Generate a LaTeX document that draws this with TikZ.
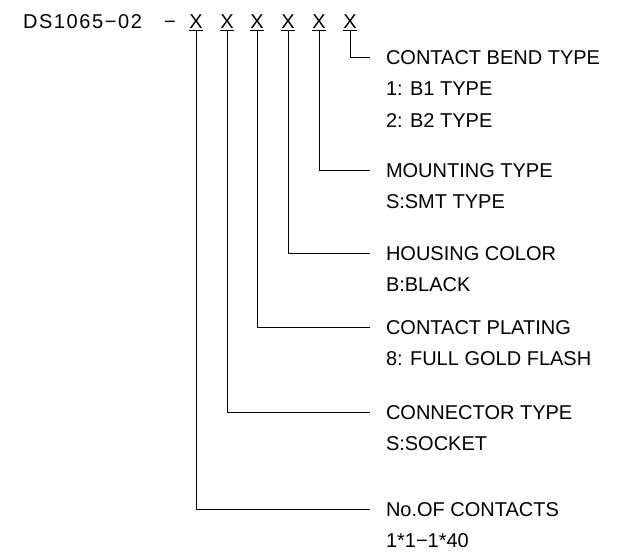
\documentclass[tikz,border=0pt]{standalone}
\usepackage{fontspec}
\setmainfont{Liberation Sans}
\newfontfamily\titlefont[LetterSpace=8]{Liberation Sans}
\usetikzlibrary{positioning}

\begin{document}
\begin{tikzpicture}[
  x=1pt, y=-1pt,
  node distance=17pt,
  txt/.style={inner sep=0pt, outer sep=0pt, text height=14.5pt, text depth=0pt,
    font=\fontsize{20}{24}\selectfont},
  xmark/.style={txt, inner xsep=0.5pt, inner ysep=2.5pt},
  lbl/.style={txt, anchor=west, outer xsep=16pt},
  lead/.style={line width=0.9pt}
]
\useasboundingbox (0,0) rectangle (617,553);

% part number
\node[txt, anchor=west, font=\fontsize{20}{24}\titlefont] (code) at (23,21) {DS1065−02};
\node[txt] (dash) at (170,21) {−};
\foreach \i/\xx in {1/196,2/227,3/257,4/288,5/319,6/350} {
  \node[xmark] (x\i) at (\xx,21) {X};
  \draw[lead] (x\i.south west) -- (x\i.south east);
}

% option fields
\node[lbl] (bend) at (370,57) {CONTACT BEND TYPE};
\node[lbl, below=of bend.south west, anchor=north west] (bend1) {1: B1 TYPE};
\node[lbl, below=of bend1.south west, anchor=north west] (bend2) {2: B2 TYPE};

\node[lbl] (mount) at (370,170) {MOUNTING TYPE};
\node[lbl, below=of mount.south west, anchor=north west] (mount1) {S:SMT TYPE};

\node[lbl] (color) at (370,253) {HOUSING COLOR};
\node[lbl, below=of color.south west, anchor=north west] (color1) {B:BLACK};

\node[lbl] (plating) at (370,327) {CONTACT PLATING};
\node[lbl, below=of plating.south west, anchor=north west] (plating1) {8: FULL GOLD FLASH};

\node[lbl] (conn) at (370,412) {CONNECTOR TYPE};
\node[lbl, below=of conn.south west, anchor=north west] (conn1) {S:SOCKET};

\node[lbl] (contacts) at (370,509) {No.OF CONTACTS};
\node[lbl, below=of contacts.south west, anchor=north west] (contacts1) {1*1−1*40};

% leaders
\draw[lead] (x6.south) |- (bend);
\draw[lead] (x5.south) |- (mount);
\draw[lead] (x4.south) |- (color);
\draw[lead] (x3.south) |- (plating);
\draw[lead] (x2.south) |- (conn);
\draw[lead] (x1.south) |- (contacts);
\end{tikzpicture}
\end{document}
